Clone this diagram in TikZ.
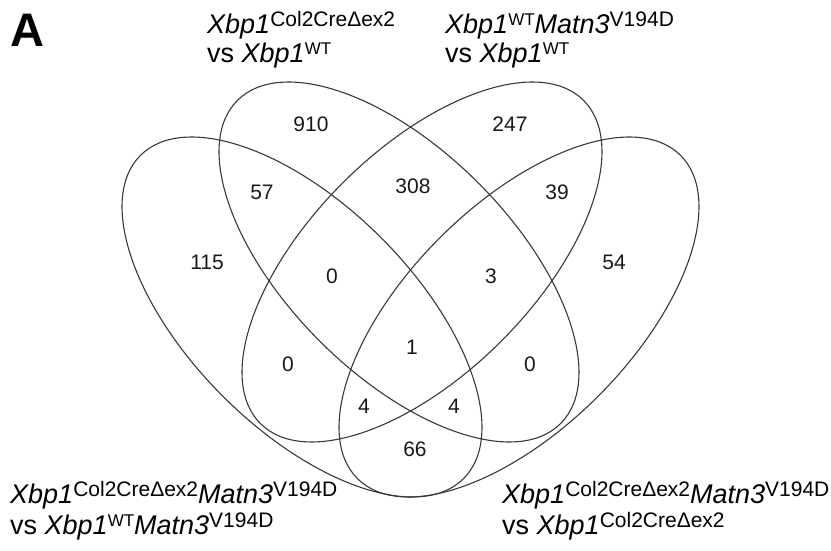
\documentclass[tikz,border=0pt]{standalone}
\usepackage{fontspec}
\setmainfont{Liberation Sans}
% gene names in italics, allele superscripts upright and smaller
\newcommand\gene[1]{\textit{#1}}
\newcommand\supA[1]{\raisebox{7pt}{\fontsize{21}{21}\selectfont\upshape #1}}
\newcommand\supW[1]{\raisebox{8pt}{\fontsize{17}{17}\selectfont\upshape #1}}

\begin{document}
\begin{tikzpicture}[x=1pt,y=1pt,
  venn/.style={draw=black!78, line width=1.1pt},
  count/.style={font=\fontsize{21}{21}\selectfont, text=black!90, inner sep=0pt},
  lbl/.style={font=\fontsize{27}{27}\selectfont, anchor=base west, inner sep=0pt},
  panel/.style={font=\fontsize{47}{47}\selectfont\bfseries, anchor=base west, inner sep=0pt}
]
\useasboundingbox (0,0) rectangle (831,550);

% the four congruent ellipses of the Venn diagram
\draw[venn, shift={(302,233)}, rotate=-45] (0,0) ellipse [x radius=228.5, y radius=112];
\draw[venn, shift={(399,288)}, rotate=-45] (0,0) ellipse [x radius=228.5, y radius=112];
\draw[venn, shift={(422,288)}, rotate=45]  (0,0) ellipse [x radius=228.5, y radius=112];
\draw[venn, shift={(519,233)}, rotate=45]  (0,0) ellipse [x radius=228.5, y radius=112];

% region counts
\node[count] (n910) at (311,426) {910};
\node[count] (n247) at (510,426) {247};
\node[count] (n57)  at (262,358) {57};
\node[count] (n308) at (413,364) {308};
\node[count] (n39)  at (557,358) {39};
\node[count] (n115) at (207,288) {115};
\node[count] (n54)  at (614,288) {54};
\node[count] (n0a)  at (332,274) {0};
\node[count] (n3)   at (491,274) {3};
\node[count] (n1)   at (412,203) {1};
\node[count] (n0b)  at (288,186) {0};
\node[count] (n0c)  at (530,186) {0};
\node[count] (n4a)  at (364,144) {4};
\node[count] (n4b)  at (454,144) {4};
\node[count] (n66)  at (415,101) {66};

% panel letter
\node[panel] (panelA) at (10,503) {A};

% set labels
\node[lbl] (tl1) at (207,516) {\gene{Xbp1}\supA{Col2CreΔex2}};
\node[lbl] (tl2) at (207,487) {vs \gene{Xbp1}\supW{WT}};
\node[lbl] (tr1) at (445,516) {\gene{Xbp1}\supW{WT}\gene{Matn3}\supA{V194D}};
\node[lbl] (tr2) at (445,487) {vs \gene{Xbp1}\supW{WT}};
\node[lbl] (bl1) at (10,47) {\gene{Xbp1}\supA{Col2CreΔex2}\gene{Matn3}\supA{V194D}};
\node[lbl] (bl2) at (10,16) {vs \gene{Xbp1}\supW{WT}\gene{Matn3}\supA{V194D}};
\node[lbl] (br1) at (502,47) {\gene{Xbp1}\supA{Col2CreΔex2}\gene{Matn3}\supA{V194D}};
\node[lbl] (br2) at (502,16) {vs \gene{Xbp1}\supA{Col2CreΔex2}};
\end{tikzpicture}
\end{document}
